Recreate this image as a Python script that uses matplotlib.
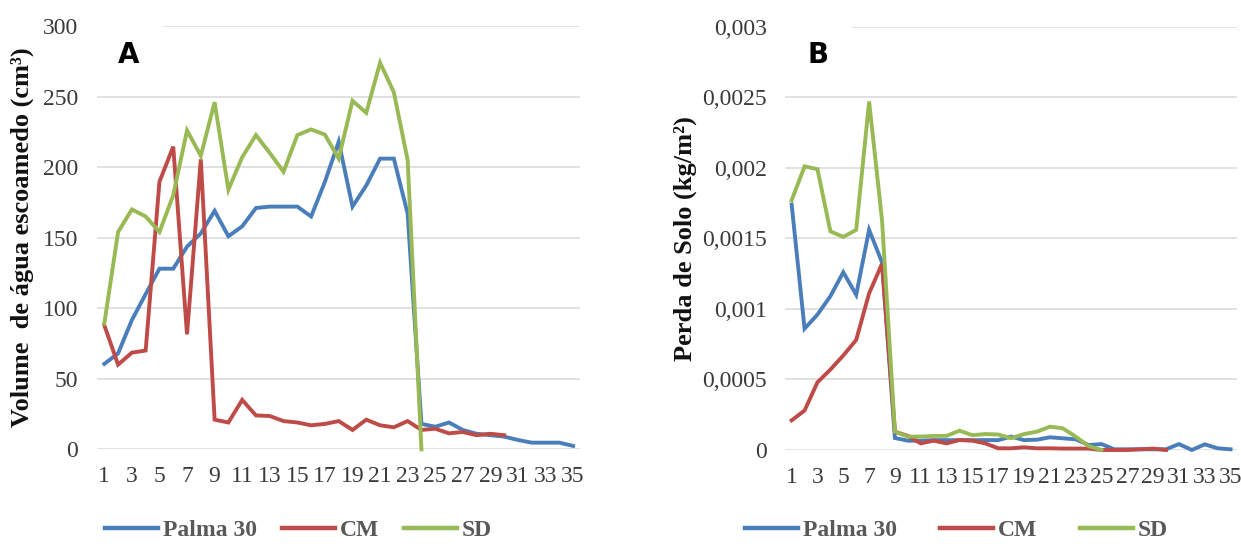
import matplotlib
matplotlib.use("Agg")
import matplotlib.pyplot as plt

# x categories (events 1..35)
events = list(range(1, 36))

# Panel A: runoff volume (cm3)
vol_palma = [60.5, 68, 91.6, 110, 128, 128, 143.6, 153, 169, 151, 158, 171, 172, 172, 172, 165,
             189.6, 218, 172, 187, 206, 206, 167, 18, 16, 19, 13.7, 11, 10, 9, 6.6, 4.7, 4.7, 4.7, 2.4]
vol_cm = [88, 60, 68.5, 70, 189.6, 214.5, 81.5, 205.5, 21, 19, 35, 24, 23.6, 20, 19, 17,
          18, 20, 13.7, 21, 17, 15.6, 20, 13.7, 14.6, 11.3, 12.3, 10, 11, 10]
vol_sd = [89, 154, 170, 165, 154, 180, 226, 208, 246, 184, 207, 222.7, 210, 196.7, 222.7, 226.7,
          223, 206, 247, 238.5, 274, 253, 205, 0]

# Panel B: soil loss (kg/m2)
loss_palma = [0.00174, 0.00086, 0.00096, 0.00109, 0.00126, 0.00110, 0.00156, 0.00133, 0.000085,
              0.000066, 0.000066, 0.00007, 0.00007, 0.00007, 0.00007, 0.00007, 0.00007, 0.000095,
              0.00007, 0.000073, 0.00009, 0.000083, 0.000076, 0.000035, 0.000042, 0.000005,
              0.000005, 0.000005, 0.000005, 0.000005, 0.000042, 0.0, 0.00004, 0.000012, 0.000005]
loss_cm = [0.00021, 0.00028, 0.00048, 0.00057, 0.00067, 0.00078, 0.00111, 0.00132, 0.00013,
           0.0001, 0.000047, 0.000066, 0.000047, 0.000071, 0.000066, 0.000047, 0.000012, 0.000012,
           0.000019, 0.000012, 0.000012, 0.00001, 0.00001, 0.00001, 0.0, 0.0, 0.0, 0.000005,
           0.00001, 0.0]
loss_sd = [0.00177, 0.00201, 0.00199, 0.00155, 0.00151, 0.00156, 0.00247, 0.00163, 0.00013,
           0.000095, 0.000095, 0.0001, 0.0001, 0.000137, 0.000105, 0.000113, 0.00011, 0.000083,
           0.000113, 0.00013, 0.000165, 0.000154, 0.000095, 0.000028, 0.0]

series_names = ["Palma 30", "CM", "SD"]
colors = ["#4A7EBB", "#BE4B48", "#98B954"]

yticks_a = [0, 50, 100, 150, 200, 250, 300]
yticks_b = [0, 0.0005, 0.001, 0.0015, 0.002, 0.0025, 0.003]
yticklabels_b = ["0", "0,0005", "0,001", "0,0015", "0,002", "0,0025", "0,003"]

plt.rcParams["font.family"] = ["Liberation Serif", "DejaVu Serif"]

W, H = 1241, 546
fig = plt.figure(figsize=(W / 100, H / 100), dpi=100)


def fx(px):
    return px / W


def fy(py):
    return 1 - py / H


def style_axes(ax, yticks, ylabels, ylim, ytitle, pad_y):
    ax.set_xlim(0.5, 35.5)
    ax.set_ylim(*ylim)
    ax.set_yticks(yticks)
    ax.set_yticklabels(ylabels)
    ax.set_xticks(list(range(1, 36, 2)))
    ax.tick_params(axis="both", length=0, labelsize=17, labelcolor="#3a3a3a")
    ax.tick_params(axis="x", pad=12)
    ax.tick_params(axis="y", pad=pad_y)
    for s in ax.spines.values():
        s.set_visible(False)
    ax.grid(axis="y", color="#d9d9d9", linewidth=1.1)
    ax.set_axisbelow(True)
    ax.set_ylabel(ytitle, fontsize=19, fontweight="bold", color="#111111")


def draw(ax, ys):
    handles = []
    for name, col, y in zip(series_names, colors, ys):
        h, = ax.plot(events[:len(y)], y, color=col, lw=2.8, label=name, clip_on=False,
                     solid_joinstyle="miter")
        handles.append(h)
    return handles


# Panel A
a_left, a_right = 97.4, 580
axA = fig.add_axes([fx(a_left), fy(449.3), fx(a_right - a_left), (449.3 - 26) / H])
style_axes(axA, yticks_a, [str(v) for v in yticks_a], (0, 300),
           "Volume  de água escoamedo (cm³)", 14)
hA = draw(axA, [vol_palma, vol_cm, vol_sd])
axA.yaxis.set_label_coords((34 - a_left) / (a_right - a_left), 0.5)

# Panel B
b_left, b_right = 785.2, 1237
axB = fig.add_axes([fx(b_left), fy(450), fx(b_right - b_left), (450 - 26.7) / H])
style_axes(axB, yticks_b, yticklabels_b, (0, 0.003), "Perda de Solo (kg/m²)", 13)
hB = draw(axB, [loss_palma, loss_cm, loss_sd])
axB.yaxis.set_label_coords((697 - b_left) / (b_right - b_left), 0.5)

# panel letters with white boxes
for txt, x in (("A", 129), ("B", 818)):
    fig.text(fx(x), fy(55), txt, ha="center", va="center", fontsize=20, fontweight="bold",
             family="DejaVu Sans", color="black",
             bbox=dict(boxstyle="square,pad=0.85", fc="white", ec="none"))

# legends
for ax, handles, x0, colsp in ((axA, hA, 105, 1.06), (axB, hB, 745, 1.82)):
    ax.legend(handles=handles, loc="center left", bbox_to_anchor=(fx(x0), fy(530)),
              bbox_transform=fig.transFigure, ncol=3, frameon=False, borderpad=0,
              borderaxespad=0, handlelength=2.25, handletextpad=0.2, columnspacing=colsp,
              prop=dict(family="Liberation Serif", weight="bold", size=17), labelcolor="#595959")
    for line in ax.get_legend().get_lines():
        line.set_linewidth(3.2)

fig.savefig("out.png", dpi=100)
